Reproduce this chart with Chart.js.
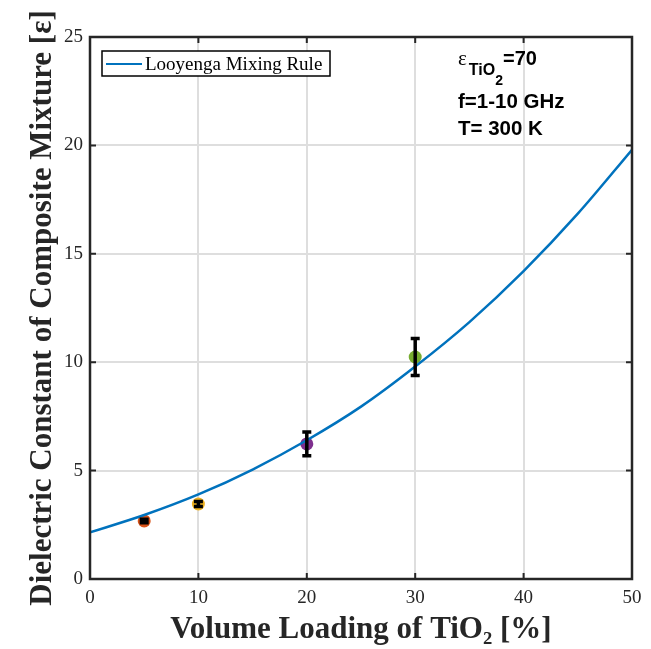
<!DOCTYPE html>
<html>
<head>
<meta charset="utf-8">
<script src="https://cdn.jsdelivr.net/npm/chart.js@4/dist/chart.umd.min.js"></script>
<style>body{margin:0;background:#fff}</style>
</head>
<body>
<canvas id="chart" width="651" height="649"></canvas>
<script>
const xTicks=[0,10,20,30,40,50]
const yTicks=[0,5,10,15,20,25]

// Looyenga mixing rule curve, every 5 %
const curveX=[0,5,10,15,20,25,30,35,40,45,50]
const curveY=[2.15,2.95,3.9,5.05,6.4,7.95,9.8,11.85,14.2,16.85,19.8]

// measured samples with error bars
const measX=[5,10,20,30]
const measY=[2.68,3.46,6.23,10.24]
const measErr=[0.08,0.12,0.55,0.85]
const measColors=['#D95319','#EDB120','#7E2F8E','#77AC30']

const serif='"Liberation Serif", "Times New Roman", serif'
const sans='"Liberation Sans", Arial, sans-serif'

const frame={
  id:'frame',
  afterDraw(chart){
    const {ctx,chartArea:a,scales}=chart
    ctx.save()
    ctx.strokeStyle='#262626'
    ctx.lineWidth=2.5
    ctx.strokeRect(a.left,a.top,a.right-a.left,a.bottom-a.top)
    ctx.lineWidth=2
    ctx.beginPath()
    xTicks.forEach(v=>{
      const x=scales.x.getPixelForValue(v)
      ctx.moveTo(x,a.bottom);ctx.lineTo(x,a.bottom-6)
      ctx.moveTo(x,a.top);ctx.lineTo(x,a.top+6)
    })
    yTicks.forEach(v=>{
      const y=scales.y.getPixelForValue(v)
      ctx.moveTo(a.left,y);ctx.lineTo(a.left+6,y)
      ctx.moveTo(a.right,y);ctx.lineTo(a.right-6,y)
    })
    ctx.stroke()

    // legend box
    const lx=a.left+12,ly=a.top+14
    ctx.fillStyle='#fff'
    ctx.fillRect(lx,ly,228,25)
    ctx.lineWidth=1.5
    ctx.strokeStyle='#000'
    ctx.strokeRect(lx,ly,228,25)
    ctx.strokeStyle='#0072BD'
    ctx.lineWidth=2
    ctx.beginPath();ctx.moveTo(lx+4,ly+13);ctx.lineTo(lx+40,ly+13);ctx.stroke()
    ctx.fillStyle='#000'
    ctx.font='19px '+serif
    ctx.textBaseline='alphabetic'
    ctx.fillText('Looyenga Mixing Rule',lx+43,ly+19)

    // annotation
    const ax=a.left+368
    let tx=ax
    ctx.font='21px '+serif
    ctx.fillText('\u03B5',tx,a.top+28)
    tx+=ctx.measureText('\u03B5').width+2
    ctx.font='bold 16px '+sans
    ctx.fillText('TiO',tx,a.top+38)
    tx+=ctx.measureText('TiO').width
    ctx.font='bold 14px '+sans
    ctx.fillText('2',tx,a.top+48)
    tx+=ctx.measureText('2').width
    ctx.font='bold 20px '+sans
    ctx.fillText('=70',tx,a.top+28)
    ctx.font='bold 20.5px '+sans
    ctx.fillText('f=1-10 GHz',ax,a.top+71)
    ctx.fillText('T= 300 K',ax,a.top+98)
    ctx.restore()
  }
}

const errorBars={
  id:'errorBars',
  afterDatasetsDraw(chart){
    const {ctx,scales}=chart
    ctx.save()
    ctx.strokeStyle='#000'
    ctx.lineWidth=3.5
    measX.forEach((v,i)=>{
      const x=scales.x.getPixelForValue(v)
      const y1=scales.y.getPixelForValue(measY[i]+measErr[i])
      const y2=scales.y.getPixelForValue(measY[i]-measErr[i])
      ctx.beginPath()
      ctx.moveTo(x,y1);ctx.lineTo(x,y2)
      ctx.moveTo(x-4.5,y1);ctx.lineTo(x+4.5,y1)
      ctx.moveTo(x-4.5,y2);ctx.lineTo(x+4.5,y2)
      ctx.stroke()
    })
    ctx.restore()
  }
}

new Chart(document.getElementById('chart'),{
  type:'line',
  data:{
    datasets:[{
      label:'Looyenga Mixing Rule',
      data:curveX.map((x,i)=>({x:x,y:curveY[i]})),
      borderColor:'#0072BD',
      borderWidth:2.5,
      pointRadius:0,
      cubicInterpolationMode:'monotone'
    },{
      label:'measured',
      type:'scatter',
      data:measX.map((x,i)=>({x:x,y:measY[i]})),
      backgroundColor:measColors,
      borderWidth:0,
      pointRadius:6.5
    }]
  },
  options:{
    responsive:false,
    animation:false,
    layout:{padding:{top:37,right:19,left:0,bottom:0}},
    plugins:{legend:{display:false},tooltip:{enabled:false}},
    scales:{
      x:{
        type:'linear',min:0,max:50,
        afterBuildTicks:s=>{s.ticks=xTicks.map(v=>({value:v}))},
        afterFit:s=>{s.height=70},
        grid:{color:'#dedede',lineWidth:2,drawTicks:false},
        border:{display:false},
        ticks:{color:'#262626',padding:8,font:{family:serif,size:19},maxRotation:0},
        title:{display:true,text:'Volume Loading of TiO\u2082 [%]',color:'#262626',
          font:{family:serif,size:31,weight:'bold'},padding:{top:0,bottom:0}}
      },
      y:{
        min:0,max:25,
        afterBuildTicks:s=>{s.ticks=yTicks.map(v=>({value:v}))},
        afterFit:s=>{s.width=90},
        grid:{color:'#dedede',lineWidth:2,drawTicks:false},
        border:{display:false},
        ticks:{color:'#262626',padding:7,font:{family:serif,size:19}},
        title:{display:true,text:'Dielectric Constant of Composite Mixture [\u03B5]',color:'#262626',
          font:{family:serif,size:31,weight:'bold'},padding:{top:24,bottom:0}}
      }
    }
  },
  plugins:[frame,errorBars]
})
</script>
</body>
</html>
